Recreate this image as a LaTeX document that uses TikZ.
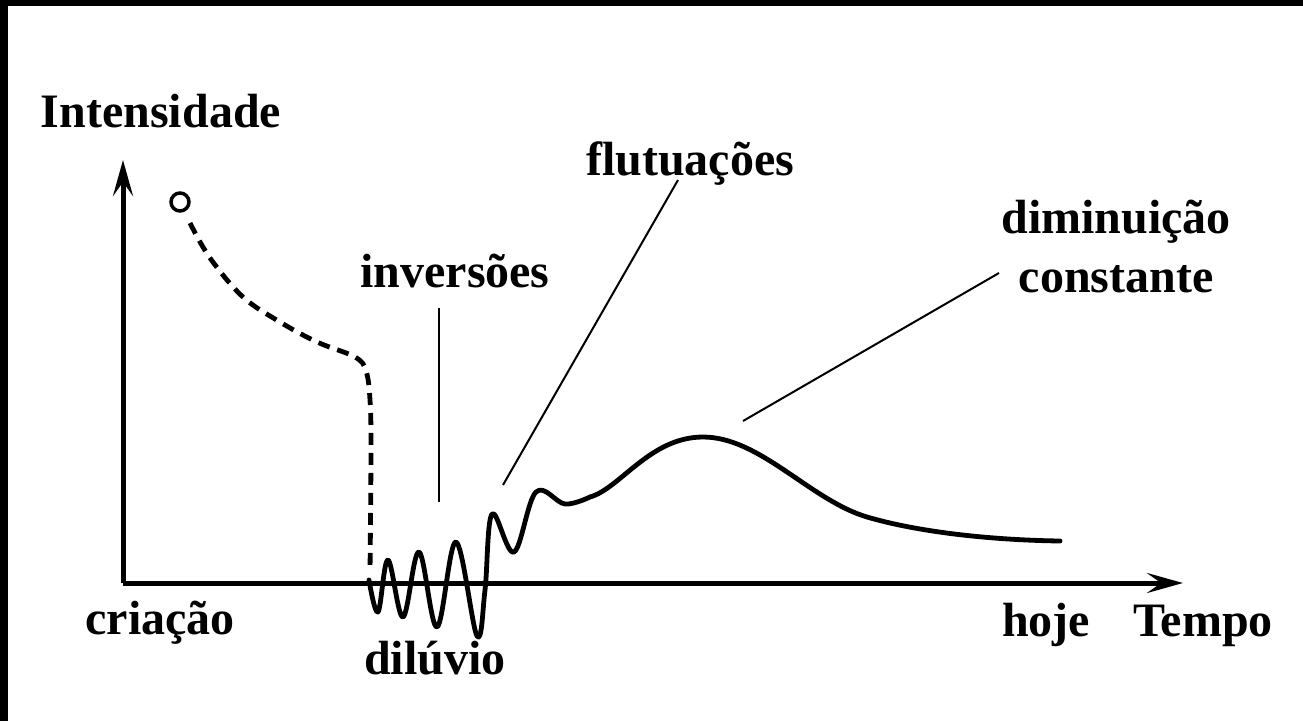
\documentclass[tikz,border=0pt]{standalone}
\usepackage{fontspec}
\setmainfont{Liberation Serif}
\usepackage{tikz}
\usetikzlibrary{arrows.meta,positioning,calc}

\begin{document}
\begin{tikzpicture}[
    x=1pt, y=-1pt,
    lbl/.style={anchor=base, font=\fontsize{48}{59}\selectfont\bfseries, inner sep=0pt, align=center},
    axis/.style={-{Stealth[length=36pt, width=20pt, inset=14pt]}, line width=5pt},
    curve/.style={line width=4.8pt, line join=round, line cap=round},
    leader/.style={line width=2pt}
]
    \useasboundingbox (0,0) rectangle (1303,721);
    \fill[black] (0,0) rectangle (1303,6);
    \fill[black] (0,0) rectangle (8,721);

    \coordinate (origin) at (123,583);
    \coordinate (ytip) at (123,160);
    \coordinate (xtip) at (1183,583);
    \draw[axis] (origin) -- (ytip);
    \draw[axis] (origin) -- (xtip);

    \node[lbl] (intensidade) at (161,127) {Intensidade};
    \node[lbl] (criacao) at (160,634) {criação};
    \node[lbl] (diluvio) at (435,674) {dilúvio};
    \node[lbl] (hoje) at (1046,636) {hoje};
    \node[lbl] (tempo) at (1203,636) {Tempo};
    \node[lbl] (inversoes) at (455,287) {inversões};
    \node[lbl] (flutuacoes) at (690,175) {flutuações};
    \node[lbl] (diminuicao) at (1116,292) {diminuição\\constante};

    % start point of the curve
    \node[circle, draw, line width=3.5pt, minimum size=18pt, inner sep=0pt] (inicio) at (180,202) {};
    \draw[curve, dash pattern=on 12pt off 8pt, line cap=butt] plot[smooth, tension=0.6] coordinates {
        (190,223) (210,258) (243,297) (280,322) (317,342) (355,357) (366,371)
        (370,400) (371,450) (370,572)};

    \draw[curve] plot[smooth, tension=0.6] coordinates {
        (369,580) (378,612) (388,560) (403,617) (419,552) (437,627) (456,542)
        (477,636) (485,590) (492,514) (514,552) (536,492) (565,504) (590,497)}
        .. controls (620,488.6) and (650,437) .. (703,437)
        .. controls (760,437) and (810,500) .. (867,517)
        .. controls (918,532) and (990,540) .. (1060,541);

    \coordinate (inv-top) at (439,308);
    \coordinate (inv-end) at (439,502);
    \coordinate (flu-top) at (678,180);
    \coordinate (flu-end) at (503,485);
    \coordinate (dim-top) at (999,273);
    \coordinate (dim-end) at (743,421);
    \draw[leader] (inv-top) -- (inv-end);
    \draw[leader] (flu-top) -- (flu-end);
    \draw[leader] (dim-top) -- (dim-end);
\end{tikzpicture}
\end{document}
